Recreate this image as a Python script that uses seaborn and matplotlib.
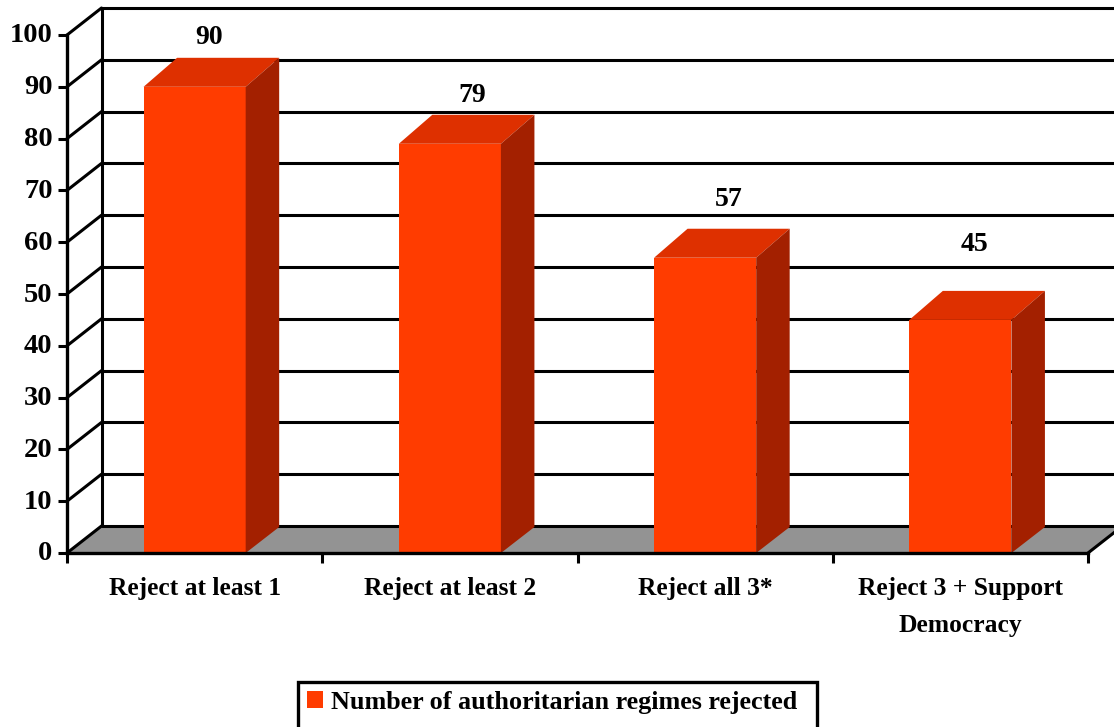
import matplotlib
matplotlib.use("Agg")
import matplotlib.pyplot as plt
from matplotlib.patches import Patch, Polygon, Rectangle
from matplotlib.transforms import ScaledTranslation
import seaborn as sns

categories = ["Reject at least 1", "Reject at least 2", "Reject all 3*", "Reject 3 + Support\nDemocracy"]
regimes = [90, 79, 57, 45]
y_ticks = [0, 10, 20, 30, 40, 50, 60, 70, 80, 90, 100]
legend_label = "Number of authoritarian regimes rejected"

# colores de las caras
FRONT = "#FF3C00"
TOP = "#DE3000"
SIDE = "#A32000"
FLOOR = "#939393"

W, H = 1114, 727
sns.set_style("white")
plt.rcParams["font.family"] = ["Liberation Serif", "DejaVu Serif"]
plt.rcParams["font.weight"] = "bold"
plt.rcParams["text.color"] = "black"
plt.rcParams["xtick.labelcolor"] = "black"
plt.rcParams["ytick.labelcolor"] = "black"

fig = plt.figure(figsize=(W / 100, H / 100), dpi=100)
# el plano frontal del grafico, en pixeles: x 67-1088, y 35-553
ax = fig.add_axes([67 / W, 1 - 553 / H, (1088 - 67) / W, (553 - 35) / H])

sns.barplot(x=categories, y=regimes, color=FRONT, saturation=1, width=0.4, ax=ax, zorder=3,
            linewidth=0, edgecolor="none")
ax.set_xlim(-0.5, 3.5)
ax.set_ylim(0, 100)

# profundidad 3D pasada de pixeles a unidades de datos
px_x = 4 / (1088 - 67)
px_y = 100 / (553 - 35)
dx = 34.5 * px_x
dy = 27 * px_y
bar_dx = 33.5 * px_x
bar_dy_top = 29 * px_y
bar_dy_bottom = 26 * px_y

# suelo
ax.add_patch(Polygon([(-0.5, 0), (3.5, 0), (3.5 + dx, dy), (-0.5 + dx, dy)],
                     facecolor=FLOOR, edgecolor="none", zorder=0.5, clip_on=False))

# rejilla de la pared del fondo y diagonales de la pared izquierda
for t in y_ticks:
    ax.plot([-0.5 + dx, 3.5 + dx], [t + dy, t + dy], color="black", lw=2.2, zorder=1, clip_on=False,
            solid_capstyle="butt")
    ax.plot([-0.5, -0.5 + dx], [t, t + dy], color="black", lw=2.2, zorder=1, clip_on=False)
ax.plot([-0.5 + dx, -0.5 + dx], [dy, 100 + dy], color="black", lw=2.2, zorder=1, clip_on=False)
ax.plot([3.5, 3.5 + dx], [0, dy], color="black", lw=2.2, zorder=1, clip_on=False)

# caras superior y lateral de cada barra
for bar in list(ax.patches):
    if not isinstance(bar, Rectangle):
        continue
    x0 = bar.get_x()
    x1 = x0 + bar.get_width()
    h = bar.get_height()
    ax.add_patch(Polygon([(x0, h), (x1, h), (x1 + bar_dx, h + bar_dy_top), (x0 + bar_dx, h + bar_dy_top)],
                         facecolor=TOP, edgecolor="none", zorder=3, clip_on=False))
    ax.add_patch(Polygon([(x1, 0), (x1 + bar_dx, bar_dy_bottom), (x1 + bar_dx, h + bar_dy_top), (x1, h)],
                         facecolor=SIDE, edgecolor="none", zorder=3, clip_on=False))

# etiquetas de valor, desplazadas como en el original (pixeles)
label_offsets = [(14, 49), (22, 48), (24, 58), (14, 75)]
for i, v in enumerate(regimes):
    ax.annotate(str(v), (i, v), xytext=(label_offsets[i][0] * 0.72, label_offsets[i][1] * 0.72),
                textcoords="offset points", ha="center", va="center", fontsize=20, fontweight="bold",
                annotation_clip=False)

# ejes
sns.despine(ax=ax, top=True, right=True)
for side in ["left", "bottom"]:
    ax.spines[side].set_linewidth(2.4)
    ax.spines[side].set_color("black")
    ax.spines[side].set_zorder(4)

ax.set_yticks(y_ticks)
ax.tick_params(axis="y", length=6.5, width=2.2, color="black", pad=4, labelsize=20.5, left=True)
# las etiquetas del eje y quedan 2 px por encima de su marca
for lab in ax.get_yticklabels():
    lab.set_transform(lab.get_transform() + ScaledTranslation(0, 2 / 100, fig.dpi_scale_trans))

ax.set_xticks([0, 1, 2, 3])
ax.set_xticklabels(categories, linespacing=1.8)
ax.set_xticks([-0.5, 0.5, 1.5, 2.5, 3.5], minor=True)
ax.tick_params(axis="x", which="major", length=0, pad=17, labelsize=18.4)
ax.tick_params(axis="x", which="minor", length=7.5, width=2.2, color="black", bottom=True)
ax.set_xlabel("")
ax.set_ylabel("")

# leyenda: la caja se sale por abajo de la figura
fig.add_artist(Rectangle((298 / W, -0.02), (817 - 298) / W, 1 - 682 / H + 0.02, transform=fig.transFigure,
                         facecolor="white", edgecolor="black", linewidth=2.4))
leg = fig.legend(handles=[Patch(facecolor=FRONT, edgecolor="none")], labels=[legend_label],
                 loc="center left", bbox_to_anchor=(289 / W, 1 - 702 / H), frameon=False,
                 fontsize=18.85, handlelength=0.61, handleheight=0.61, handletextpad=0.28, borderpad=0.2)

fig.savefig("out.png", dpi=100)
